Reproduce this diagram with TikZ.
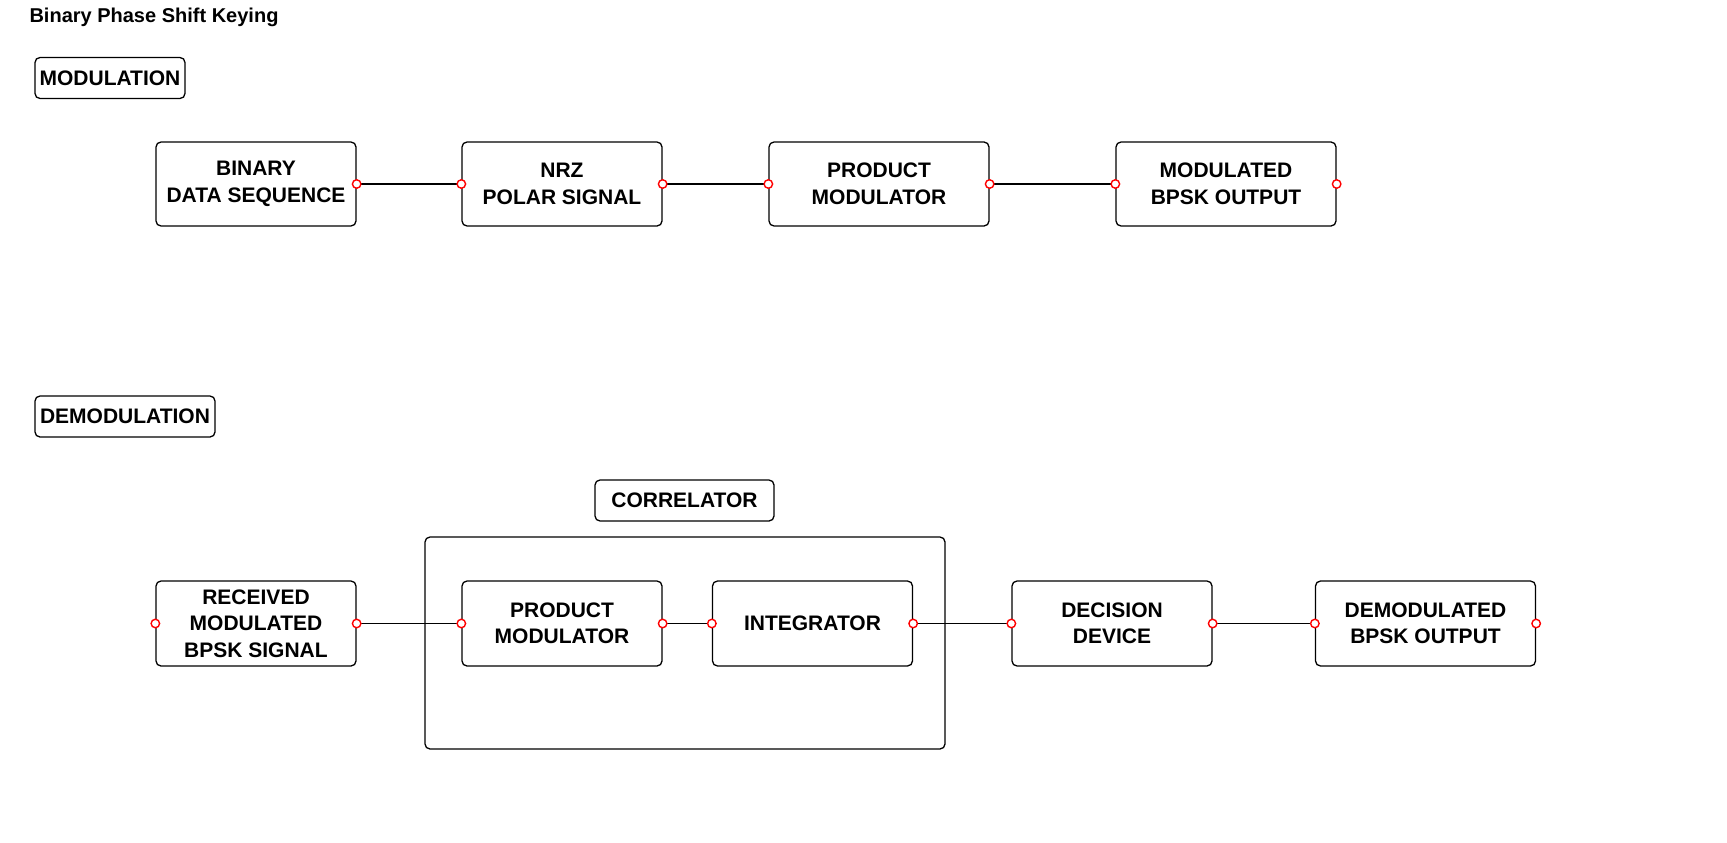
\documentclass[tikz,border=0pt]{standalone}
\usepackage{fontspec}
\setmainfont{Liberation Sans}
\begin{document}
\begin{tikzpicture}[x=1pt,y=-1pt,
  blk/.style={draw=black, line width=1.3pt, rounded corners=5pt, fill=white,
    align=center, inner sep=0pt, font=\bfseries\fontsize{21}{26.5}\selectfont},
  lbl/.style={blk, minimum height=41},
  port/.style={circle, draw=red, fill=white, line width=1.4pt, inner sep=0pt, minimum size=8.5pt},
  wire/.style={draw=black, line width=1.1pt}]
\useasboundingbox[fill=white] (0,0) rectangle (1727,843);

\node[anchor=west, font=\bfseries\fontsize{20}{22}\selectfont] (title) at (26,17) {Binary Phase Shift Keying};

\node[lbl, minimum width=150] (lmod) at (110,78) {MODULATION};
\node[lbl, minimum width=180] (ldemod) at (125,416.5) {DEMODULATION};
\node[lbl, minimum width=179] (lcorr) at (684.5,500.5) {CORRELATOR};

% modulation chain
\node[blk, minimum width=200, minimum height=84] (bin) at (256,184) {BINARY\\DATA SEQUENCE};
\node[blk, minimum width=200, minimum height=84] (nrz) at (562,184) {NRZ\\POLAR SIGNAL};
\node[blk, minimum width=220, minimum height=84] (prod) at (879,184) {PRODUCT\\MODULATOR};
\node[blk, minimum width=220, minimum height=84] (modout) at (1226,184) {MODULATED\\BPSK OUTPUT};

% demodulation chain
\node[blk, minimum width=520, minimum height=212] (corr) at (685,643) {};
\node[blk, minimum width=200, minimum height=85] (rec) at (256,623.5) {RECEIVED\\MODULATED\\BPSK SIGNAL};
\node[blk, minimum width=200, minimum height=85] (prodb) at (562,623.5) {PRODUCT\\MODULATOR};
\node[blk, minimum width=200, minimum height=85] (integ) at (812.5,623.5) {INTEGRATOR};
\node[blk, minimum width=200, minimum height=85] (dec) at (1112,623.5) {DECISION\\DEVICE};
\node[blk, minimum width=220, minimum height=85] (demod) at (1425.5,623.5) {DEMODULATED\\BPSK OUTPUT};

% connectors
\draw[wire] (bin.east) -- (nrz.west);
\draw[wire] (nrz.east) -- (prod.west);
\draw[wire] (prod.east) -- (modout.west);
\draw[wire] (rec.east) -- (prodb.west);
\draw[wire] (prodb.east) -- (integ.west);
\draw[wire] (integ.east) -- (dec.west);
\draw[wire] (dec.east) -- (demod.west);

% ports
\node[port] (bin-e) at (bin.east) {};
\foreach \n in {nrz,prod,modout,rec,prodb,integ,dec,demod}{
  \node[port] (\n-w) at (\n.west) {};
  \node[port] (\n-e) at (\n.east) {};
}
\end{tikzpicture}
\end{document}
